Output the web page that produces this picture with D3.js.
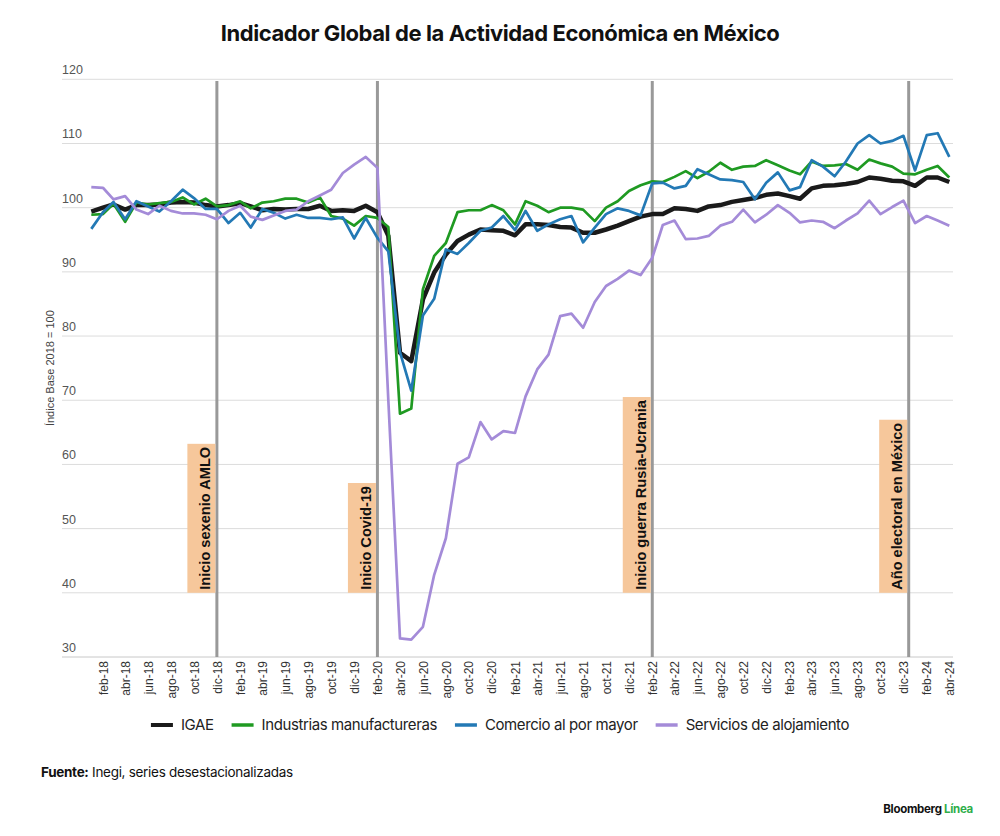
<!DOCTYPE html>
<html>
<head>
<meta charset="utf-8">
<script src="https://cdn.jsdelivr.net/npm/d3@7"></script>
<style>
  body { margin: 0; background: #fff; }
  svg { display: block; font-family: Inter, "Liberation Sans", sans-serif; }
</style>
</head>
<body>
<svg id="chart" width="1000" height="836"></svg>
<script>
// ── datos (base 2018 = 100, series desestacionalizadas, ene-18 … abr-24) ──
const monthNames = ['ene','feb','mar','abr','may','jun','jul','ago','sep','oct','nov','dic'];

const igae = [
  99.4, 100.0, 100.5, 99.7, 100.4, 100.4, 100.5, 100.8, 100.9, 100.8, 100.4, 100.2,
  100.4, 100.7, 100.2, 99.6, 99.8, 99.7, 99.8, 99.8, 100.3, 99.5, 99.6, 99.5,
  100.3, 99.3, 95.6, 77.4, 76.1, 85.7, 89.9, 92.7, 94.8, 95.8, 96.6, 96.5,
  96.4, 95.7, 97.4, 97.4, 97.3, 97.0, 96.9, 96.1, 96.1, 96.6, 97.2, 97.9,
  98.6, 99.0, 99.0, 99.9, 99.8, 99.5, 100.2, 100.4, 100.9, 101.2, 101.5, 102.0,
  102.2, 101.8, 101.4, 103.0, 103.4, 103.5, 103.7, 104.0, 104.7, 104.5, 104.2, 104.1,
  103.4, 104.7, 104.7, 104.0
];
const manufactura = [
  98.9, 99.0, 100.6, 97.8, 100.8, 100.5, 100.7, 100.9, 101.6, 100.5, 101.4, 100.2,
  100.4, 101.0, 99.9, 100.8, 101.0, 101.4, 101.4, 100.8, 101.6, 98.7, 98.3, 97.2,
  98.7, 98.4, 97.0, 67.9, 68.7, 87.3, 92.5, 94.5, 99.3, 99.6, 99.6, 100.4,
  99.6, 97.4, 101.0, 100.3, 99.3, 100.0, 100.0, 99.7, 97.9, 100.0, 101.0, 102.6,
  103.5, 104.1, 104.0, 104.8, 105.7, 104.6, 105.6, 107.0, 105.9, 106.4, 106.5, 107.4,
  106.6, 105.8, 105.2, 107.2, 106.5, 106.6, 106.8, 105.9, 107.5, 106.9, 106.4, 105.3,
  105.2, 105.9, 106.5, 104.7
];
const comercio = [
  96.7, 99.3, 100.9, 98.2, 101.0, 100.2, 99.4, 101.0, 102.8, 101.5, 99.8, 99.8,
  97.6, 99.2, 96.9, 99.8, 99.2, 98.3, 98.9, 98.4, 98.4, 98.2, 98.5, 95.2,
  98.4, 95.3, 93.2, 77.5, 71.5, 83.2, 85.8, 93.5, 92.8, 94.5, 96.4, 96.9,
  98.7, 96.5, 99.5, 96.4, 97.4, 98.2, 98.7, 94.6, 96.9, 99.0, 99.9, 99.5,
  98.8, 103.8, 103.9, 103.0, 103.4, 106.0, 105.2, 104.4, 104.3, 104.0, 101.3, 103.9,
  105.5, 102.7, 103.2, 107.4, 106.4, 104.9, 107.2, 110.0, 111.3, 110.0, 110.4, 111.2,
  105.8, 111.3, 111.6, 107.9
];
const alojamiento = [
  103.2, 103.1, 101.3, 101.8, 99.7, 99.0, 100.3, 99.5, 99.1, 99.1, 98.9, 98.2,
  99.5, 100.3, 98.6, 98.1, 98.8, 99.5, 99.7, 101.0, 101.9, 102.8, 105.4, 106.7,
  107.9, 106.2, 70.0, 32.9, 32.7, 34.7, 42.8, 48.5, 60.1, 61.1, 66.6, 63.9,
  65.2, 64.9, 70.6, 74.8, 77.1, 83.1, 83.5, 81.3, 85.3, 87.8, 88.9, 90.2,
  89.5, 92.2, 97.3, 98.0, 95.1, 95.2, 95.6, 97.2, 97.8, 99.7, 97.7, 98.9,
  100.4, 99.2, 97.7, 98.0, 97.8, 96.8, 98.0, 99.1, 101.1, 99.0, 100.1, 101.1,
  97.6, 98.7, 98.0, 97.2
];

const seriesNames  = ['IGAE', 'Industrias manufactureras', 'Comercio al por mayor', 'Servicios de alojamiento'];
const seriesColors = ['#1a1a1a', '#1f9a22', '#2379b5', '#a48bd8'];
const seriesData   = [igae, manufactura, comercio, alojamiento];

const yTicks = [30, 40, 50, 60, 70, 80, 90, 100, 110, 120];

const eventDates  = ['2018-12-01', '2020-02-01', '2022-02-01', '2023-12-15'];
const eventLabels = ['Inicio sexenio AMLO', 'Inicio Covid-19', 'Inicio guerra Rusia-Ucrania', 'Año electoral en México'];

// ═══════════════════════════════════════════
//  ESCALAS
// ═══════════════════════════════════════════
const dates = d3.timeMonth.range(new Date(2018, 0, 1), new Date(2024, 4, 1));
const parse = d3.timeParse('%Y-%m-%d');

const svg = d3.select('#chart');
const x = d3.scaleTime().domain([dates[0], dates[dates.length - 1]]).range([91.3, 949.3]);
const y = d3.scaleLinear().domain([30, 120]).range([657, 79.3]);
const gridX0 = 62, gridX1 = 953;

// título
svg.append('text')
  .attr('x', 500).attr('y', 41)
  .attr('text-anchor', 'middle')
  .attr('font-size', 22).attr('font-weight', 700)
  .attr('letter-spacing', -0.4)
  .attr('fill', '#111')
  .text('Indicador Global de la Actividad Económica en México');

// ── rejilla horizontal + etiquetas del eje y ──
const gGrid = svg.append('g');
yTicks.forEach(v => {
  gGrid.append('line')
    .attr('x1', gridX0).attr('x2', gridX1)
    .attr('y1', y(v)).attr('y2', y(v))
    .attr('stroke', v === 30 ? '#c8c8c8' : '#dcdcdc')
    .attr('stroke-width', 1);
  gGrid.append('text')
    .attr('x', gridX0).attr('y', y(v) - 5)
    .attr('font-family', '"Liberation Sans", Arial, sans-serif')
    .attr('font-size', 12.5).attr('fill', '#555')
    .text(v);
});

svg.append('text')
  .attr('transform', `translate(54,${y(75)}) rotate(-90)`)
  .attr('text-anchor', 'middle')
  .attr('font-family', '"Liberation Sans", Arial, sans-serif')
  .attr('font-size', 11).attr('fill', '#444')
  .text('Índice Base 2018 = 100');

// ── eje x: una etiqueta cada dos meses ──
const fmtMonth = d => `${monthNames[d.getMonth()]}-${String(d.getFullYear()).slice(2)}`;
const xAxis = d3.axisBottom(x)
  .tickValues(dates.filter((d, i) => i % 2 === 1))
  .tickSize(0)
  .tickFormat(fmtMonth);

const gx = svg.append('g')
  .attr('transform', `translate(0,${y(30)})`)
  .call(xAxis);
gx.select('.domain').remove();
gx.selectAll('text')
  .attr('font-family', '"Liberation Sans", Arial, sans-serif')
  .attr('font-size', 12).attr('fill', '#333')
  .attr('text-anchor', 'end')
  .attr('transform', 'rotate(-90)')
  .attr('x', -4).attr('y', 0).attr('dy', '0.35em');

// ── líneas de eventos ──
const gEv = svg.append('g');
eventDates.forEach((ds, k) => {
  const lx = x(parse(ds));
  gEv.append('line')
    .attr('x1', lx).attr('x2', lx)
    .attr('y1', 81).attr('y2', y(30))
    .attr('stroke', '#999').attr('stroke-width', 3);
});

// ── series ──
const line = d3.line()
  .x((d, i) => x(dates[i]))
  .y(d => y(d));

seriesData.forEach((s, k) => {
  svg.append('path')
    .datum(s)
    .attr('d', line)
    .attr('fill', 'none')
    .attr('stroke', seriesColors[k])
    .attr('stroke-width', k === 0 ? 4.5 : 2.7)
    .attr('stroke-linejoin', 'round');
});

// ── etiquetas de eventos (caja naranja con texto vertical) ──
eventDates.forEach((ds, k) => {
  const lx = x(parse(ds));
  const g = svg.append('g');
  const bottom = y(40);
  const t = g.append('text')
    .attr('transform', `translate(${lx - 6.5},${bottom - 3}) rotate(-90)`)
    .attr('font-family', '"Liberation Sans", Arial, sans-serif')
    .attr('font-size', 14.6).attr('font-weight', 700)
    .attr('fill', '#111')
    .text(eventLabels[k]);
  const len = t.node().getComputedTextLength();
  g.insert('rect', 'text')
    .attr('x', lx - 29.5).attr('width', 28)
    .attr('y', bottom - len - 6).attr('height', len + 6)
    .attr('fill', '#f6c79b');
});

// ── leyenda ──
const gLeg = svg.append('g');
let cx = 0;
seriesNames.forEach((name, k) => {
  gLeg.append('line')
    .attr('x1', cx).attr('x2', cx + 22)
    .attr('y1', 725).attr('y2', 725)
    .attr('stroke', seriesColors[k])
    .attr('stroke-width', k === 0 ? 4 : 3.5);
  const t = gLeg.append('text')
    .attr('x', cx + 30).attr('y', 725).attr('dy', '0.35em')
    .attr('font-size', 15).attr('letter-spacing', -0.4)
    .attr('fill', '#222')
    .text(name);
  cx += 30 + t.node().getComputedTextLength() + 18;
});
const legW = cx - 18;
gLeg.attr('transform', `translate(${500 - legW / 2},0)`);

// ── fuente ──
const src = svg.append('text')
  .attr('x', 41).attr('y', 777)
  .attr('font-size', 13.5).attr('letter-spacing', -0.3)
  .attr('fill', '#111');
src.append('tspan').attr('font-weight', 700).text('Fuente:');
src.append('tspan').text(' Inegi, series desestacionalizadas');

// ── logo ──
const logo = svg.append('text')
  .attr('x', 973).attr('y', 813)
  .attr('text-anchor', 'end')
  .attr('font-size', 11.5).attr('font-weight', 700)
  .attr('letter-spacing', -0.3);
logo.append('tspan').attr('fill', '#111').text('Bloomberg ');
logo.append('tspan').attr('fill', '#2fae4a').text('Línea');
</script>
</body>
</html>
